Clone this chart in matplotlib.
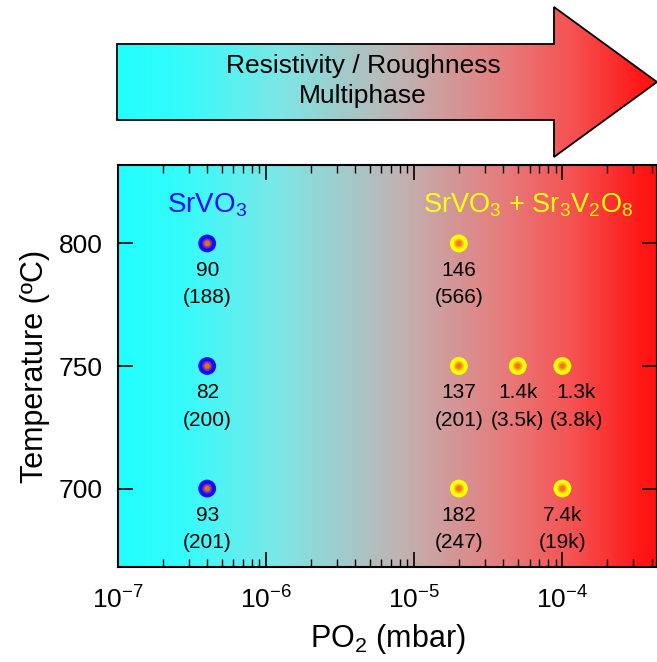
import numpy as np
import matplotlib
matplotlib.use('Agg')
import matplotlib.pyplot as plt
from matplotlib.colors import LinearSegmentedColormap, to_rgb
from matplotlib.patches import Polygon

plt.rcParams['font.family'] = ['Liberation Sans', 'DejaVu Sans']
plt.rcParams['mathtext.fontset'] = 'custom'
plt.rcParams['mathtext.rm'] = 'Liberation Sans'
plt.rcParams['mathtext.it'] = 'Liberation Sans'

# data
po2 = [4e-7, 4e-7, 4e-7, 2e-5, 2e-5, 2e-5, 5e-5, 1e-4, 1e-4]
temp = [800, 750, 700, 800, 750, 700, 750, 750, 700]
single_phase = [True, True, True, False, False, False, False, False, False]
resistivity = ['90', '82', '93', '146', '137', '182', '1.4k', '1.3k', '7.4k']
roughness = ['(188)', '(200)', '(201)', '(566)', '(201)', '(247)', '(3.5k)', '(3.8k)', '(19k)']
x_ticks = [1e-7, 1e-6, 1e-5, 1e-4]
x_ticklabels = ['$10^{-7}$', '$10^{-6}$', '$10^{-5}$', '$10^{-4}$']
y_ticks = [700, 750, 800]

W, H = 657, 662
fig = plt.figure(figsize=(W / 100, H / 100), dpi=100)

cmap = LinearSegmentedColormap.from_list('bg', [
    (0.0, '#20ffff'), (0.12, '#35fbfb'), (0.3, '#7de6e6'), (0.52, '#bfb4b4'),
    (0.72, '#e77b7b'), (0.85, '#f65050'), (0.97, '#ff1818'), (1.0, '#ff1010')])
grad = np.linspace(0, 1, 512).reshape(1, -1)

# overlay in pixel coordinates: arrow + plot background gradient
ov = fig.add_axes([0, 0, 1, 1])
ov.axis('off')
arrow_pts = [(117, 44), (554, 44), (554, 7), (657, 82), (554, 157), (554, 120), (117, 120)]
poly = Polygon(arrow_pts, closed=True, facecolor='none', edgecolor='black', lw=1.3, zorder=3)
im = ov.imshow(grad, cmap=cmap, aspect='auto', extent=(117, 657, 160, 0), zorder=1)
ov.add_patch(poly)
im.set_clip_path(poly)
ov.imshow(grad, cmap=cmap, aspect='auto', extent=(117, 657, 568, 165), zorder=1)
ov.set_xlim(0, W)
ov.set_ylim(H, 0)
ov.text(363, 66, 'Resistivity / Roughness', ha='center', va='center', fontsize=19)
ov.text(363, 96, 'Multiphase', ha='center', va='center', fontsize=19)

# main axes
ax = fig.add_axes([118 / W, 1 - 567 / H, 539 / W, (567 - 165) / H])
ax.patch.set_visible(False)
ax.set_xscale('log')
ax.set_xlim(1e-7, 4.35e-4)
ax.set_ylim(668, 832)

label_shift = {7: 14}
core = np.array(to_rgb('#f07020'))

for i, (x, y, s, r, g) in enumerate(zip(po2, temp, single_phase, resistivity, roughness)):
    base = np.array(to_rgb('#0a0aff' if s else '#ffff00'))
    # shaded ball: body colour with a small soft orange core
    for sz, t in [(165, 0.0), (55, 0.35), (30, 0.65), (14, 0.95)]:
        col = base * (1 - t) + core * t
        ax.scatter([x], [y], s=sz, color=col, zorder=4, edgecolors='none')
    dx = label_shift.get(i, 0)
    ax.annotate(r, (x, y), xytext=(dx, -27), textcoords='offset pixels',
                ha='center', va='center', fontsize=15, zorder=10)
    ax.annotate(g, (x, y), xytext=(dx, -54), textcoords='offset pixels',
                ha='center', va='center', fontsize=15, zorder=10)

ax.text(4e-7, 815.5, 'SrVO$_3$', color='#1010ff', ha='center', va='center', fontsize=20)
ax.text(5.9e-5, 815.5, 'SrVO$_3$ + Sr$_3$V$_2$O$_8$', color='#ffff10', ha='center',
        va='center', fontsize=19.5)

ax.set_xticks(x_ticks)
ax.set_xticklabels(x_ticklabels)
ax.set_yticks(y_ticks)
ax.tick_params(which='both', direction='in', top=True, right=True, labelsize=19)
ax.tick_params(axis='x', which='major', length=11, width=1.2, pad=14)
ax.tick_params(axis='y', which='major', length=11, width=1.2, pad=11)
ax.tick_params(axis='x', which='minor', length=6, width=1.0)
for sp in ax.spines.values():
    sp.set_linewidth(1.5)
ax.set_xlabel('PO$_2$ (mbar)', fontsize=22, labelpad=6)
ax.set_ylabel('Temperature (ºC)', fontsize=22, labelpad=6)

fig.savefig('out.png', dpi=100)
